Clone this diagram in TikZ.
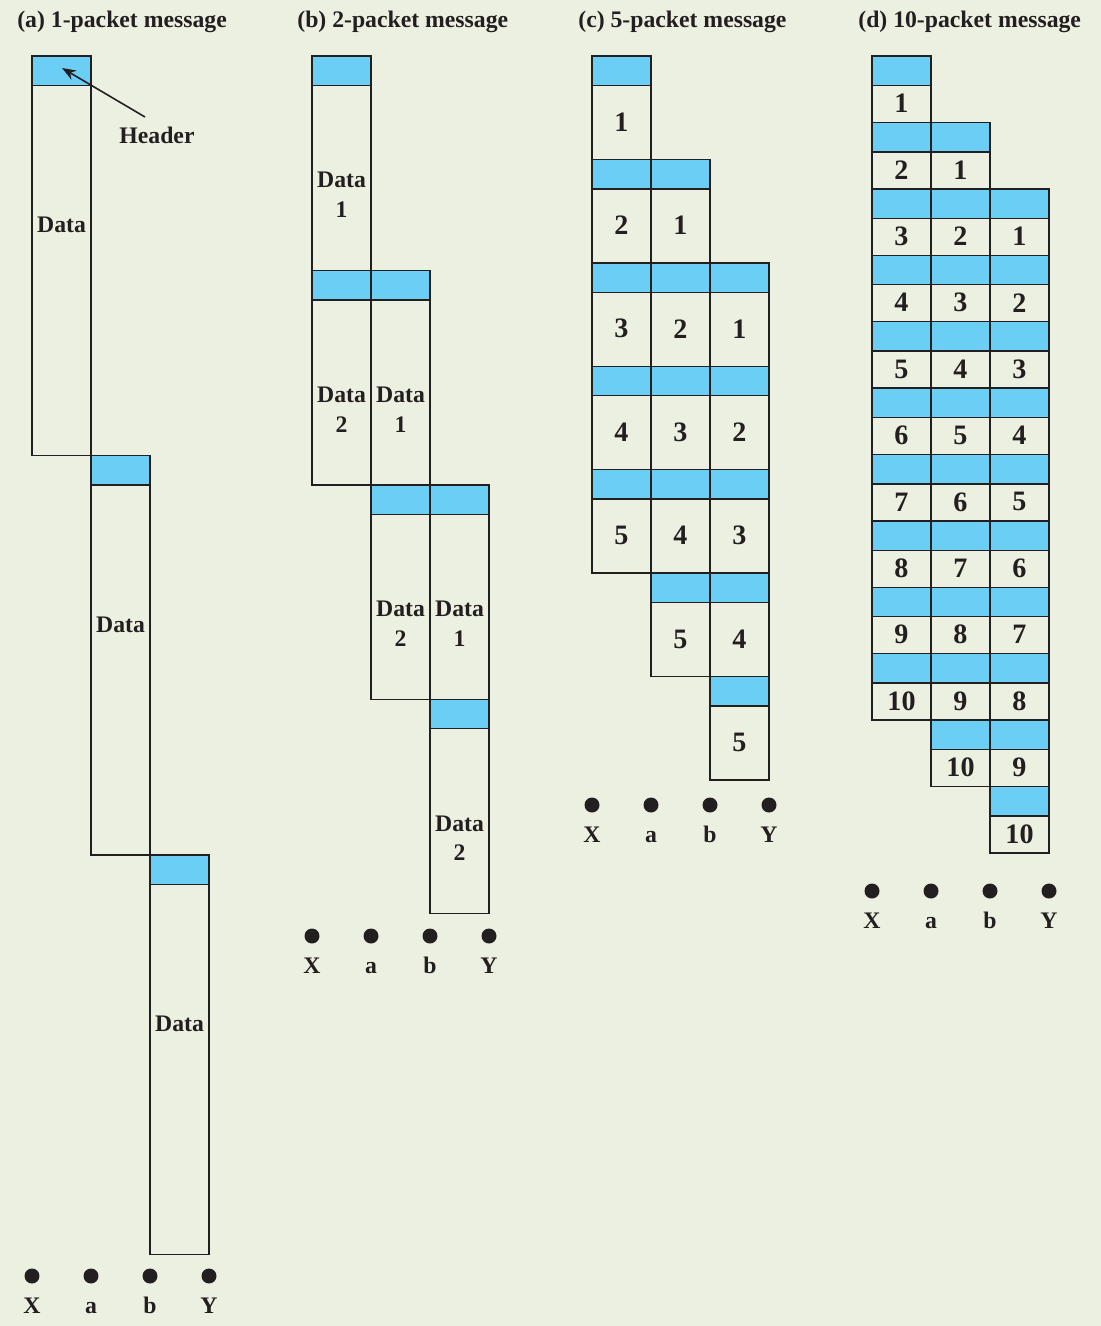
\documentclass[tikz,border=0pt]{standalone}
\usepackage{fontspec}
\setmainfont{Liberation Serif}
\usetikzlibrary{arrows.meta}
\definecolor{bgcol}{HTML}{ECF0E0}
\definecolor{hdrcol}{HTML}{6ACEF5}
\definecolor{inkcol}{HTML}{231F20}

\begin{document}
\begin{tikzpicture}[x=0.02cm, y=-0.02cm,
  box/.style={draw=inkcol, line width=0.8pt},
  hdrbox/.style={box, fill=hdrcol},
  txt/.style={font=\fontsize{13.5}{17}\selectfont\bfseries, text=inkcol, align=center, inner sep=0pt},
  num/.style={font=\fontsize{16}{18}\selectfont\bfseries, text=inkcol, inner sep=0pt},
  dot/.style={circle, fill=inkcol, inner sep=0pt, minimum size=0.3cm},
  ttl/.style={txt, anchor=west}]
\fill[bgcol] (0,0) rectangle (1101,1326);
\useasboundingbox (0,0) rectangle (1101,1326);

% titles
\node[ttl] (ta) at (17,22) {(a) 1-packet message};
\node[ttl] (tb) at (297,22) {(b) 2-packet message};
\node[ttl] (tc) at (578,22) {(c) 5-packet message};
\node[ttl] (td) at (858,22) {(d) 10-packet message};

% (a) one packet
\foreach \c [evaluate=\c as \xl using 32+59*\c, evaluate=\c as \yt using 56+399.4*\c] in {0,1,2} {
  \draw[box] (\xl,\yt) rectangle ++(59,399.4);
  \draw[hdrbox] (\xl,\yt) rectangle ++(59,29.4);
  \node[txt] (a-\c) at (\xl+29.5,\yt+169) {Data};
}
\node[txt, anchor=base] (hdr) at (157,143) {Header};
\coordinate (hdrtail) at (145,117);
\coordinate (hdrtip) at (62,68);
\draw[-{Stealth[length=8pt,width=6pt]}, line width=0.9pt, inkcol] (hdrtail) -- (hdrtip);

% (b) two packets
\foreach \p in {1,2} {
  \foreach \c [evaluate=\c as \xl using 312+59*\c, evaluate=\c as \yt using 56+214.4*(\p-1+\c)] in {0,1,2} {
    \draw[box] (\xl,\yt) rectangle ++(59,214.4);
    \draw[hdrbox] (\xl,\yt) rectangle ++(59,29.4);
    \node[txt] (b-\p-\c) at (\xl+29.5,\yt+139) {Data\\\p};
  }
}

% (c) five packets
\foreach \p in {1,...,5} {
  \foreach \c [evaluate=\c as \xl using 592+59*\c, evaluate=\c as \yt using 56+103.4*(\p-1+\c)] in {0,1,2} {
    \draw[box] (\xl,\yt) rectangle ++(59,103.4);
    \draw[hdrbox] (\xl,\yt) rectangle ++(59,29.4);
    \node[num] (c-\p-\c) at (\xl+29.5,\yt+66) {\p};
  }
}

% (d) ten packets
\foreach \p in {1,...,10} {
  \foreach \c [evaluate=\c as \xl using 872+59*\c, evaluate=\c as \yt using 56+66.4*(\p-1+\c)] in {0,1,2} {
    \draw[box] (\xl,\yt) rectangle ++(59,66.4);
    \draw[hdrbox] (\xl,\yt) rectangle ++(59,29.4);
    \node[num] (d-\p-\c) at (\xl+29.5,\yt+47.5) {\p};
  }
}

% stations
\foreach \pn/\x/\y in {a/32/1276, b/312/936, c/592/805, d/872/891} {
  \foreach \s [count=\k from 0] in {X,a,b,Y} {
    \node[dot] (\pn-dot-\s) at (\x+59*\k,\y) {};
    \node[txt, anchor=base] (\pn-lbl-\s) at (\x+59*\k,\y+37) {\s};
  }
}
\end{tikzpicture}
\end{document}
